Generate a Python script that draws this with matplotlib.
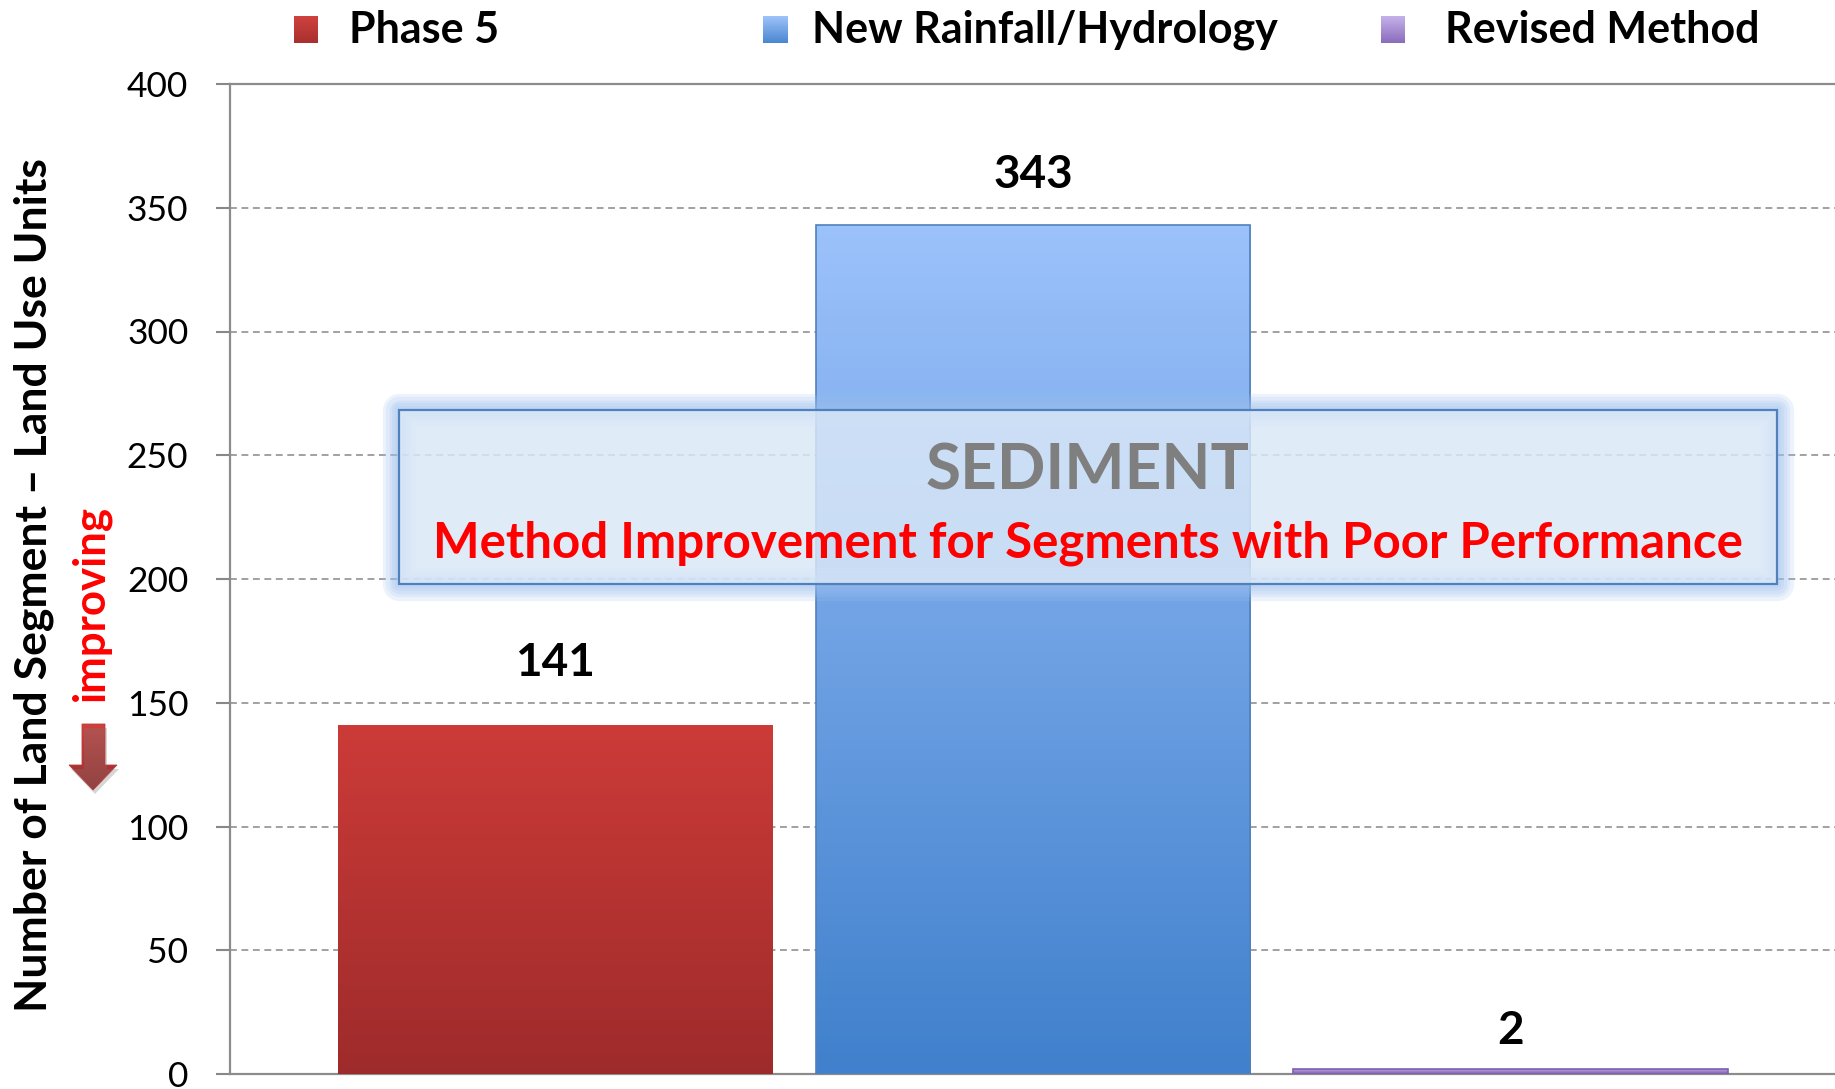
import numpy as np
import matplotlib
matplotlib.use("Agg")
import matplotlib.pyplot as plt
from matplotlib.colors import LinearSegmentedColormap
from matplotlib.patches import Rectangle, Polygon

plt.rcParams['font.family'] = ['Lato', 'DejaVu Sans']

# counts of land segment - land use units per method
methods = ["Phase 5", "New Rainfall/Hydrology", "Revised Method"]
counts = [141, 343, 2]

# gradient colours (bottom, top) and edge colour for each series
grad_colors = [("#9e2b2b", "#cc3b38"), ("#4080cc", "#9cc2fb"), ("#7d5fae", "#b9a0e2")]
edge_colors = ["none", "#4f81bd", "#7d5fae"]
label_offsets = [35, 27, 18]

fig = plt.figure(figsize=(18.35, 10.89), dpi=100)
ax = fig.add_axes([230 / 1835, 15 / 1089, 1605 / 1835, 990 / 1089])

x = np.arange(len(methods))
bars = ax.bar(x, counts, width=0.91, facecolor="none", zorder=3)

grad = np.linspace(0, 1, 256).reshape(-1, 1)
for bar, (c0, c1), ec in zip(bars, grad_colors, edge_colors):
    bar.set_edgecolor(ec)
    bar.set_linewidth(1.2)
    x0, y0 = bar.get_x(), bar.get_y()
    w, h = bar.get_width(), bar.get_height()
    cmap = LinearSegmentedColormap.from_list("g", [c0, c1])
    im = ax.imshow(grad, extent=(x0, x0 + w, y0, y0 + h), origin="lower",
                   cmap=cmap, aspect="auto", zorder=2.9)
    im.set_clip_path(bar)

# value labels above the bars
for bar, v, off in zip(bars, counts, label_offsets):
    ax.annotate(str(v), (bar.get_x() + bar.get_width() / 2, v),
                xytext=(0, off), textcoords="offset points",
                ha="center", va="baseline", fontsize=33, fontweight="bold",
                color="black", zorder=6)

ax.set_xlim(-0.68, 2.678)
ax.set_ylim(0, 400)
ax.set_yticks(np.arange(0, 401, 50))
ax.set_xticks([])
ax.set_axisbelow(True)
ax.yaxis.grid(True, color="#888888", linewidth=1.1, linestyle=(0, (4.5, 3)))
ax.tick_params(axis="y", length=10, width=1.5, color="#888888", pad=20, labelsize=25.5)
for side in ["left", "bottom", "top"]:
    ax.spines[side].set_color("#8c8c8c")
    ax.spines[side].set_linewidth(1.6)
ax.spines["right"].set_visible(False)

ax.set_ylabel("Number of Land Segment \u2013 Land Use Units", fontsize=32, fontweight="bold")
ax.yaxis.label.set(ha="center", va="center")
ax.yaxis.set_label_coords(-0.122, 0.494)

ax.text(-0.0866, 0.476, "improving", transform=ax.transAxes, rotation=90,
        ha="center", va="center", fontsize=31.5, fontweight="bold", color="#ff0000")

# callout box with soft glow
bx0, bx1, by0, by1 = -0.326, 2.556, 198, 268.3
for lw in [24, 19, 14, 10, 6]:
    ax.add_patch(Rectangle((bx0, by0), bx1 - bx0, by1 - by0, fill=False,
                           edgecolor="#9cc0ef", linewidth=lw, alpha=0.18,
                           joinstyle="round", zorder=4))
ax.add_patch(Rectangle((bx0, by0), bx1 - bx0, by1 - by0, facecolor=(0.855, 0.91, 0.97, 0.83),
                       edgecolor="#4f81bd", linewidth=1.6, zorder=4.1))
ax.text(1.115, 236, "SEDIMENT", ha="center", va="baseline", fontsize=46,
        fontweight="bold", color="#7f7f7f", zorder=5)
ax.text(1.115, 208.5, "Method Improvement for Segments with Poor Performance",
        ha="center", va="baseline", fontsize=35.5, fontweight="bold", color="#ff0000", zorder=5)

# legend across the top
W, H = 1835, 1089
marker_x = [294, 763, 1381]
text_x = [349, 812, 1445]
leg_fill = [("#a8302e", "#cf423e"), ("#4a86d0", "#9ec4fa"), ("#8a6cbc", "#c6b2ea")]
for name, mx, tx, (c0, c1) in zip(methods, marker_x, text_x, leg_fill):
    lax = fig.add_axes([mx / W, 1 - 43 / H, 24 / W, 27 / H])
    lax.imshow(grad, extent=(0, 1, 0, 1), origin="lower",
               cmap=LinearSegmentedColormap.from_list("g", [c0, c1]), aspect="auto")
    lax.axis("off")
    fig.text(tx / W, 1 - 43 / H, name, ha="left", va="baseline",
             fontsize=31, fontweight="bold", color="black")

# down arrow next to "improving"
aax = fig.add_axes([60 / W, 1 - 805 / H, 70 / W, 90 / H])
aax.set_xlim(60, 130)
aax.set_ylim(805, 715)
aax.axis("off")
pts = [(82, 724), (105, 724), (105, 765), (117, 765), (93, 790), (69, 765), (82, 765)]
shadow = Polygon([(px + 2, py + 4) for px, py in pts], closed=True,
                 facecolor="#7a7a7a", edgecolor="none", alpha=0.3)
aax.add_patch(shadow)
arrow = Polygon(pts, closed=True, facecolor="none", edgecolor="#b5403d", linewidth=0.6)
aax.add_patch(arrow)
aim = aax.imshow(grad, extent=(60, 130, 790, 724), origin="upper",
                 cmap=LinearSegmentedColormap.from_list("a", ["#d0413d", "#9c2b2b"]),
                 aspect="auto")
aim.set_clip_path(arrow)

fig.savefig("out.png", dpi=100)
